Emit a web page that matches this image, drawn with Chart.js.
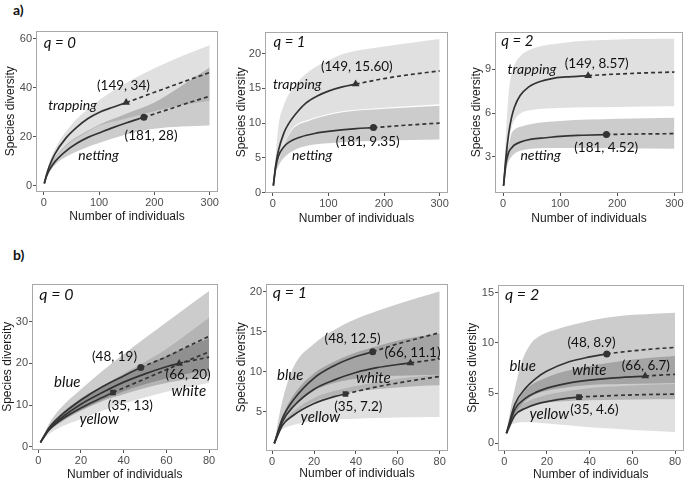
<!DOCTYPE html>
<html>
<head>
<meta charset="utf-8">
<script src="https://cdn.jsdelivr.net/npm/chart.js@4.4.0/dist/chart.umd.min.js"></script>
<style>
  body { margin: 0; width: 685px; height: 480px; overflow: hidden; background: #fff; position: relative; }
  canvas { position: absolute; }
  .tag { position: absolute; font: bold 14px Lato, sans-serif; line-height: 14px; color: #111; }
</style>
</head>
<body>
<div class="tag" style="left:13px;top:3px">a)</div>
<div class="tag" style="left:13px;top:248px">b)</div>

<script>
// ---- tick labels ----
var xTicksTop = [0, 100, 200, 300];
var xTicksBottom = [0, 20, 40, 60, 80];
var yTicksA0 = [0, 20, 40, 60];
var yTicksA1 = [0, 5, 10, 15, 20];
var yTicksA2 = [3, 6, 9];
var yTicksB0 = [0, 10, 20, 30];
var yTicksB1 = [5, 10, 15, 20];
var yTicksB2 = [0, 5, 10, 15];

// ---- a) q = 0 : trapping / netting ----
var a0TrapX = [1, 5, 10, 20, 40, 60, 80, 100, 125, 149, 200, 250, 300];
var a0TrapY = [1, 4.5, 8, 13, 19.5, 24, 27.5, 30, 32.1, 34, 38.2, 42.3, 46.3];
var a0NetX = [1, 5, 10, 20, 40, 60, 80, 100, 125, 150, 181, 225, 260, 300];
var a0NetY = [1, 3.9, 6.4, 9.8, 14.2, 17.4, 19.8, 21.6, 23.8, 25.8, 28, 31.2, 33.8, 36.6];
var a0BandX = [1, 10, 25, 50, 75, 100, 149, 200, 250, 300];
var a0TrapUp = [1, 9.5, 17, 25, 30.5, 35, 42, 48, 53, 57.4];
var a0TrapLo = [1, 6.8, 12.5, 18, 21.5, 24.5, 27.5, 30.5, 33, 34.8];
var a0NetUp = [1, 7.8, 13, 18.5, 22, 25, 29.5, 34, 41, 48.3];
var a0NetLo = [1, 5.5, 9.5, 13, 15.5, 17.5, 21, 23.3, 24.2, 24.7];

// ---- a) q = 1 ----
var a1TrapX = [1, 5, 10, 20, 30, 40, 60, 80, 100, 125, 149, 200, 250, 300];
var a1TrapY = [1, 3.8, 6, 8.6, 10.1, 11.2, 12.9, 13.9, 14.6, 15.2, 15.6, 16.4, 17.0, 17.5];
var a1NetX = [1, 5, 10, 20, 30, 50, 75, 100, 150, 181, 240, 300];
var a1NetY = [1, 3.5, 5.2, 6.6, 7.3, 8.0, 8.5, 8.8, 9.2, 9.35, 9.7, 10.0];
var a1BandX = [1, 5, 10, 20, 36, 66, 100, 125, 200, 300];
var a1TrapUp = [1, 5, 9.5, 12.6, 15, 17.5, 19, 19.9, 21, 22.1];
var a1TrapLo = [1, 3.3, 4.8, 7.0, 9.3, 10.5, 11.3, 11.7, 12.2, 12.7];
var a1NetUp = [1, 3.6, 4.6, 6.85, 9.15, 10.35, 11.15, 11.55, 12.05, 12.5];
var a1NetLo = [1, 2.8, 3.8, 5.0, 6.0, 6.8, 7.1, 7.25, 7.5, 7.65];

// ---- a) q = 2 ----
var a2TrapX = [1, 5, 10, 15, 20, 30, 45, 60, 90, 120, 149, 200, 250, 300];
var a2TrapY = [1, 2.9, 4.6, 5.7, 6.4, 7.2, 7.8, 8.1, 8.4, 8.5, 8.57, 8.68, 8.76, 8.82];
var a2NetX = [1, 5, 10, 15, 20, 30, 50, 75, 100, 140, 181, 240, 300];
var a2NetY = [1, 2.5, 3.3, 3.6, 3.8, 4.0, 4.2, 4.3, 4.4, 4.47, 4.52, 4.56, 4.58];
var a2BandX = [1, 5, 10, 15, 20, 30, 50, 100, 200, 300];
var a2TrapUp = [1, 4.5, 7.4, 8.7, 9.3, 9.9, 10.4, 10.8, 11.05, 11.1];
var a2TrapLo = [1, 2.2, 3.9, 5.0, 5.5, 5.95, 6.2, 6.35, 6.42, 6.46];
var a2NetUp = [1, 2.9, 3.8, 4.6, 4.85, 5.05, 5.25, 5.45, 5.6, 5.67];
var a2NetLo = [1, 1.9, 2.7, 3.0, 3.2, 3.4, 3.55, 3.6, 3.58, 3.54];

// ---- b) q = 0 : blue / white / yellow ----
var b0BlueX = [1, 5, 10, 20, 30, 40, 48, 60, 70, 80];
var b0BlueY = [1, 4.5, 7.2, 11.2, 14.4, 17, 19, 21.6, 24.1, 26.5];
var b0WhiteX = [1, 5, 10, 20, 30, 40, 50, 60, 66, 73, 80];
var b0WhiteY = [1, 4.2, 6.6, 10.2, 13, 15.5, 17.5, 19.2, 20, 20.8, 21.5];
var b0YellowX = [1, 5, 10, 20, 30, 35, 50, 65, 80];
var b0YellowY = [1, 4, 6.2, 9.3, 11.8, 13, 16.3, 19.6, 22.8];
var b0BandX = [1, 5, 10, 20, 30, 40, 50, 60, 70, 80];
var b0BlueUp = [1, 5.5, 9, 13.8, 18.2, 22.2, 26.1, 29.9, 33.7, 37.4];
var b0BlueLo = [1, 3.8, 5.8, 8.8, 11.2, 13.3, 15, 16.4, 17.5, 18.5];
var b0WhiteUp = [1, 4.8, 7.6, 11.6, 14.6, 17.2, 19.5, 21.8, 24, 26];
var b0WhiteLo = [1, 3.6, 5.6, 8.6, 10.9, 12.6, 14.1, 15.3, 16.2, 17];
var b0YellowUp = [1, 4.8, 7.5, 11.4, 14.6, 17.6, 20.4, 23.5, 27.2, 31];
var b0YellowLo = [1, 3.0, 4.6, 6.6, 8.6, 10.3, 11.8, 13.2, 14.3, 15.3];

// ---- b) q = 1 ----
var b1BlueX = [1, 5, 10, 20, 30, 40, 48, 60, 70, 80];
var b1BlueY = [1, 4.2, 6.4, 9.2, 10.8, 11.9, 12.5, 13.5, 14.2, 14.9];
var b1WhiteX = [1, 5, 10, 20, 30, 40, 50, 60, 66, 73, 80];
var b1WhiteY = [1, 3.8, 5.6, 7.8, 9.0, 9.9, 10.5, 10.9, 11.1, 11.35, 11.6];
var b1YellowX = [1, 5, 10, 20, 30, 35, 50, 65, 80];
var b1YellowY = [1, 3.3, 4.5, 6.0, 6.9, 7.2, 8.1, 8.8, 9.4];
var b1BandX = [1, 3, 5, 10, 20, 30, 40, 50, 60, 70, 80];
var b1BlueUp = [1, 4, 6.5, 10.5, 13.5, 15.3, 16.6, 17.6, 18.5, 19.3, 20.1];
var b1BlueLo = [1, 2.5, 3.8, 5.5, 7.6, 8.6, 9.1, 9.4, 9.5, 9.55, 9.6];
var b1WhiteUp = [1, 3.0, 4.5, 7, 9.8, 11.3, 12.4, 13.2, 13.9, 14.4, 14.8];
var b1WhiteLo = [1, 2.2, 3.3, 4.6, 6.2, 7.0, 7.5, 7.8, 8.0, 8.2, 8.3];
var b1YellowUp = [1, 2.7, 3.6, 5.0, 6.7, 7.6, 8.2, 8.7, 9.1, 9.4, 9.6];
var b1YellowLo = [1, 2.3, 2.8, 3.3, 3.8, 4.0, 4.1, 4.2, 4.25, 4.28, 4.3];

// ---- b) q = 2 ----
var b2BlueX = [1, 5, 10, 15, 20, 30, 40, 48, 60, 70, 80];
var b2BlueY = [1, 3.9, 5.5, 6.5, 7.2, 8.1, 8.6, 8.9, 9.2, 9.4, 9.55];
var b2WhiteX = [1, 5, 10, 15, 20, 30, 40, 50, 66, 73, 80];
var b2WhiteY = [1, 3.4, 4.5, 5.1, 5.5, 6.0, 6.3, 6.5, 6.7, 6.8, 6.87];
var b2YellowX = [1, 5, 10, 15, 20, 30, 35, 50, 65, 80];
var b2YellowY = [1, 2.8, 3.5, 3.9, 4.15, 4.5, 4.6, 4.75, 4.85, 4.9];
var b2BandX = [1, 3, 5, 8, 12, 16, 24, 40, 55, 70, 80];
var b2BlueUp = [1, 3.5, 5.5, 8.0, 9.8, 10.6, 11.3, 12.2, 12.7, 12.9, 13.0];
var b2BlueLo = [1, 2.2, 3.0, 3.8, 4.6, 5.0, 5.4, 5.8, 5.9, 5.95, 6.0];
var b2WhiteUp = [1, 2.6, 3.8, 4.8, 5.7, 6.2, 6.9, 7.7, 8.2, 8.55, 8.7];
var b2WhiteLo = [1, 2.0, 2.8, 3.3, 3.7, 3.95, 4.15, 4.3, 4.35, 4.4, 4.4];
var b2YellowUp = [1, 2.4, 3.2, 3.8, 4.3, 4.6, 5.0, 5.5, 5.7, 5.85, 5.9];
var b2YellowLo = [1, 1.8, 2.0, 2.1, 2.1, 2.05, 1.9, 1.6, 1.4, 1.22, 1.14];

// ---- helpers ----
var LINE = '#333333';
var AXIS_FONT = "'Liberation Sans', Arial, sans-serif";
var NOTE_FONT = "Lato, 'Open Sans', sans-serif";

function pts(xs, ys) {
    return xs.map(function (x, i) { return { x: x, y: ys[i] }; });
}

function band(xs, up, lo, color) {
    return [
        { data: pts(xs, up), fill: '+1', backgroundColor: color, borderWidth: 0, pointRadius: 0, cubicInterpolationMode: 'monotone', order: 3 },
        { data: pts(xs, lo), fill: false, borderWidth: 0, pointRadius: 0, cubicInterpolationMode: 'monotone', order: 3 }
    ];
}

function curve(xs, ys, obs) {
    return {
        data: pts(xs, ys), borderColor: LINE, borderWidth: 1.7, pointRadius: 0, fill: false,
        cubicInterpolationMode: 'monotone', order: 2,
        segment: { borderDash: function (ctx) { return ctx.p0.parsed.x >= obs ? [4, 3] : undefined; } }
    };
}

function marker(x, y, style) {
    return {
        data: [{ x: x, y: y }], showLine: false, pointStyle: style,
        pointRadius: style === 'triangle' ? 4.5 : (style === 'rect' ? 4 : 3.5),
        backgroundColor: LINE, borderColor: LINE, borderWidth: 0, order: 1
    };
}

function note(text, x, y, kind, big) {
    var f;
    if (kind === 'q') f = 'italic ' + (big ? 16 : 15) + 'px ' + NOTE_FONT;
    else if (kind === 'name') f = 'italic ' + (big ? 15 : 14) + 'px ' + NOTE_FONT;
    else f = '13.5px ' + NOTE_FONT;
    return { text: text, x: x, y: y, font: f, align: kind === 'q' ? 'left' : 'center' };
}

var notesPlugin = {
    id: 'notes',
    afterDatasetsDraw: function (chart, args, opts) {
        var ctx = chart.ctx, sx = chart.scales.x, sy = chart.scales.y;
        ctx.save();
        (opts.items || []).forEach(function (n) {
            ctx.font = n.font;
            ctx.fillStyle = '#111';
            ctx.textAlign = n.align;
            ctx.textBaseline = 'middle';
            ctx.fillText(n.text, sx.getPixelForValue(n.x), sy.getPixelForValue(n.y));
        });
        ctx.restore();
    },
    afterDraw: function (chart) {
        var a = chart.chartArea, ctx = chart.ctx;
        ctx.save();
        ctx.strokeStyle = '#a8a8a8';
        ctx.lineWidth = 1;
        ctx.strokeRect(Math.round(a.left) + 0.5, Math.round(a.top) + 0.5, Math.round(a.width) - 1, Math.round(a.height) - 1);
        ctx.restore();
    }
};

function axis(min, max, ticks, title, size) {
    return {
        type: 'linear', min: min, max: max,
        afterBuildTicks: function (s) { s.ticks = ticks.map(function (v) { return { value: v }; }); },
        afterFit: function (s) { if (s.isHorizontal()) s.height = size; else s.width = size; },
        grid: { drawOnChartArea: false, drawTicks: true, tickLength: 3, color: '#555' },
        border: { display: false },
        ticks: { padding: 1, color: '#4d4d4d', autoSkip: false, maxRotation: 0, font: { family: AXIS_FONT, size: 11 } },
        title: { display: true, text: title, color: '#1a1a1a', padding: 0, font: { family: AXIS_FONT, size: 12 } }
    };
}

function panel(geo, xr, yr, xTicks, yTicks, datasets, notes) {
    var left = Math.round(geo.yTitle - 7.2);
    var top = Math.round(geo.t - 6);
    var right = Math.round(geo.r + 14);
    var bottom = Math.round(geo.xTitle + 7.2);
    var cv = document.createElement('canvas');
    cv.width = right - left;
    cv.height = bottom - top;
    cv.style.left = left + 'px';
    cv.style.top = top + 'px';
    document.body.appendChild(cv);

    new Chart(cv, {
        type: 'line',
        data: { datasets: datasets },
        plugins: [notesPlugin],
        options: {
            responsive: false, animation: false, devicePixelRatio: 1,
            layout: { autoPadding: false, padding: { top: geo.t - top, right: right - geo.r, left: 0, bottom: 0 } },
            scales: {
                x: axis(xr[0], xr[1], xTicks, 'Number of individuals', bottom - geo.b),
                y: axis(yr[0], yr[1], yTicks, 'Species diversity', geo.l - left)
            },
            plugins: { legend: { display: false }, tooltip: { enabled: false }, notes: { items: notes } }
        }
    });
}

var LIGHT = 'rgba(0,0,0,0.12)';
var MID = 'rgba(0,0,0,0.2)';
var TOPX = [-14, 315];
var BOTX = [-2.95, 83.95];

// ---- row a ----
panel({ l: 36, r: 218, t: 29, b: 192, yTitle: 10, xTitle: 216.7 }, TOPX, [-2.5, 63.4], xTicksTop, yTicksA0,
    [].concat(band(a0BandX, a0TrapUp, a0TrapLo, LIGHT), band(a0BandX, a0NetUp, a0NetLo, MID),
        [curve(a0TrapX, a0TrapY, 149), curve(a0NetX, a0NetY, 181), marker(149, 34, 'triangle'), marker(181, 28, 'circle')]),
    [note('q = 0', 0, 58.4, 'q'), note('(149, 34)', 144, 41.1), note('trapping', 52, 32.8, 'name'),
     note('(181, 28)', 194, 20.6), note('netting', 99, 12.5, 'name')]);

panel({ l: 265, r: 448, t: 30, b: 193, yTitle: 241.5, xTitle: 218.3 }, TOPX, [-0.05, 23.15], xTicksTop, yTicksA1,
    [].concat(band(a1BandX, a1TrapUp, a1TrapLo, LIGHT), band(a1BandX, a1NetUp, a1NetLo, MID),
        [curve(a1TrapX, a1TrapY, 149), curve(a1NetX, a1NetY, 181), marker(149, 15.6, 'triangle'), marker(181, 9.35, 'circle')]),
    [note('q = 1', 1.2, 21.6, 'q'), note('(149, 15.60)', 151, 18.1), note('trapping', 44, 15.5, 'name'),
     note('(181, 9.35)', 170.6, 7.35), note('netting', 70.6, 5.33, 'name')]);

panel({ l: 495, r: 683, t: 30, b: 193, yTitle: 476.5, xTitle: 218.3 }, TOPX, [0.5, 11.6], xTicksTop, yTicksA2,
    [].concat(band(a2BandX, a2TrapUp, a2TrapLo, LIGHT), band(a2BandX, a2NetUp, a2NetLo, MID),
        [curve(a2TrapX, a2TrapY, 149), curve(a2NetX, a2NetY, 181), marker(149, 8.57, 'triangle'), marker(181, 4.52, 'circle')]),
    [note('q = 2', -3, 10.95, 'q'), note('(149, 8.57)', 164, 9.38), note('trapping', 50.7, 8.98, 'name'),
     note('(181, 4.52)', 180.5, 3.6), note('netting', 65.8, 3.09, 'name')]);

// ---- row b ----
panel({ l: 32, r: 217.5, t: 282, b: 450, yTitle: 6.7, xTitle: 475 }, BOTX, [-0.82, 39.2], xTicksBottom, yTicksB0,
    [].concat(band(b0BandX, b0BlueUp, b0BlueLo, MID), band(b0BandX, b0WhiteUp, b0WhiteLo, MID), band(b0BandX, b0YellowUp, b0YellowLo, LIGHT),
        [curve(b0BlueX, b0BlueY, 48), curve(b0WhiteX, b0WhiteY, 66), curve(b0YellowX, b0YellowY, 35),
         marker(48, 19, 'circle'), marker(66, 20, 'triangle'), marker(35, 13, 'rect')]),
    [note('q = 0', 0.5, 36.6, 'q', true), note('(48, 19)', 35.7, 21.7), note('blue', 13.6, 15.4, 'name', true),
     note('(66, 20)', 70.2, 17.2), note('white', 70.5, 13.4, 'name', true),
     note('(35, 13)', 43.1, 9.9), note('yellow', 28.5, 6.65, 'name', true)]);

panel({ l: 266, r: 448, t: 282, b: 451, yTitle: 241, xTitle: 474 }, BOTX, [0.045, 21.05], xTicksBottom, yTicksB1,
    [].concat(band(b1BandX, b1BlueUp, b1BlueLo, MID), band(b1BandX, b1WhiteUp, b1WhiteLo, MID), band(b1BandX, b1YellowUp, b1YellowLo, LIGHT),
        [curve(b1BlueX, b1BlueY, 48), curve(b1WhiteX, b1WhiteY, 66), curve(b1YellowX, b1YellowY, 35),
         marker(48, 12.5, 'circle'), marker(66, 11.1, 'triangle'), marker(35, 7.2, 'rect')]),
    [note('q = 1', 0.3, 19.9, 'q', true), note('(48, 12.5)', 38.4, 14.2), note('blue', 8.6, 9.6, 'name', true),
     note('(66, 11.1)', 67, 12.4), note('white', 48.3, 9.2, 'name', true),
     note('(35, 7.2)', 41.1, 5.65), note('yellow', 23, 4.27, 'name', true)]);

panel({ l: 498, r: 683.5, t: 283, b: 451, yTitle: 471.7, xTitle: 475 }, BOTX, [-0.76, 15.8], xTicksBottom, yTicksB2,
    [].concat(band(b2BandX, b2BlueUp, b2BlueLo, MID), band(b2BandX, b2WhiteUp, b2WhiteLo, MID), band(b2BandX, b2YellowUp, b2YellowLo, LIGHT),
        [curve(b2BlueX, b2BlueY, 48), curve(b2WhiteX, b2WhiteY, 66), curve(b2YellowX, b2YellowY, 35),
         marker(48, 8.9, 'circle'), marker(66, 6.7, 'triangle'), marker(35, 4.6, 'rect')]),
    [note('q = 2', 0.3, 14.8, 'q', true), note('(48, 8.9)', 40.9, 10.05), note('blue', 8.6, 7.7, 'name', true),
     note('(66, 6.7)', 66.3, 7.7), note('white', 39.8, 7.3, 'name', true),
     note('(35, 4.6)', 42.2, 3.34), note('yellow', 21.1, 2.95, 'name', true)]);
</script>
</body>
</html>
